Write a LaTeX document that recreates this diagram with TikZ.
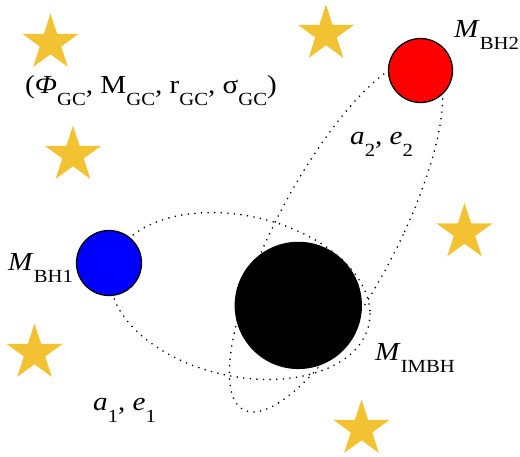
\documentclass[tikz,border=0pt]{standalone}
\usepackage{fontspec}
\setmainfont{Liberation Serif}[FakeStretch=1.12]
\usetikzlibrary{shapes.geometric}
\definecolor{stargold}{RGB}{242,194,50}
\newcommand{\lowsub}[1]{\raisebox{-12pt}{\fontsize{18.5}{20}\selectfont #1}}

\begin{document}
\begin{tikzpicture}[x=1pt,y=-1pt,
  orbit/.style={line width=1.8pt,line cap=round,dash pattern=on 0pt off 6.6pt},
  gcstar/.style={star,star points=5,star point ratio=2.618,fill=stargold,minimum size=59pt,inner sep=0pt},
  bh/.style={circle,draw=black,line width=1.3pt,inner sep=0pt},
  lbl/.style={anchor=base west,inner sep=0pt,font=\fontsize{26}{30}\selectfont}]
\useasboundingbox (0,0) rectangle (520,456);
% orbits
\draw[orbit,domain=0:360,samples=140,variable=\t] plot ({240+130*cos(\t)},{296+18*cos(\t)+81.5*sin(\t)});
\draw[orbit,domain=0:360,samples=160,variable=\t] plot ({336+67*cos(\t)-83*sin(\t)},{235+177*sin(\t)});
% cluster stars
\node[gcstar] (star1) at (50.5,43) {};
\node[gcstar] (star2) at (73,155) {};
\node[gcstar] (star3) at (326,34) {};
\node[gcstar] (star4) at (464.5,232.5) {};
\node[gcstar] (star5) at (34.5,353) {};
\node[gcstar] (star6) at (361.5,429) {};
% black holes
\node[bh,fill=blue,minimum size=65pt] (bh1) at (109,263) {};
\node[bh,fill=red,minimum size=64pt] (bh2) at (420.5,70.5) {};
\node[bh,fill=black,minimum size=126pt] (imbh) at (298.3,305.4) {};
% labels
\node[lbl] (lgc) at (25,93) {(\textit{Φ}\lowsub{GC}, M\lowsub{GC}, r\lowsub{GC}, σ\lowsub{GC})};
\node[lbl] (lbh2) at (454,37) {\textit{M}\lowsub{BH2}};
\node[lbl] (la2) at (350,144) {\textit{a}\lowsub{2}, \textit{e}\lowsub{2}};
\node[lbl] (lbh1) at (8,270) {\textit{M}\lowsub{BH1}};
\node[lbl] (limbh) at (375,360) {\textit{M}\lowsub{IMBH}};
\node[lbl] (la1) at (93,410) {\textit{a}\lowsub{1}, \textit{e}\lowsub{1}};
\end{tikzpicture}
\end{document}
